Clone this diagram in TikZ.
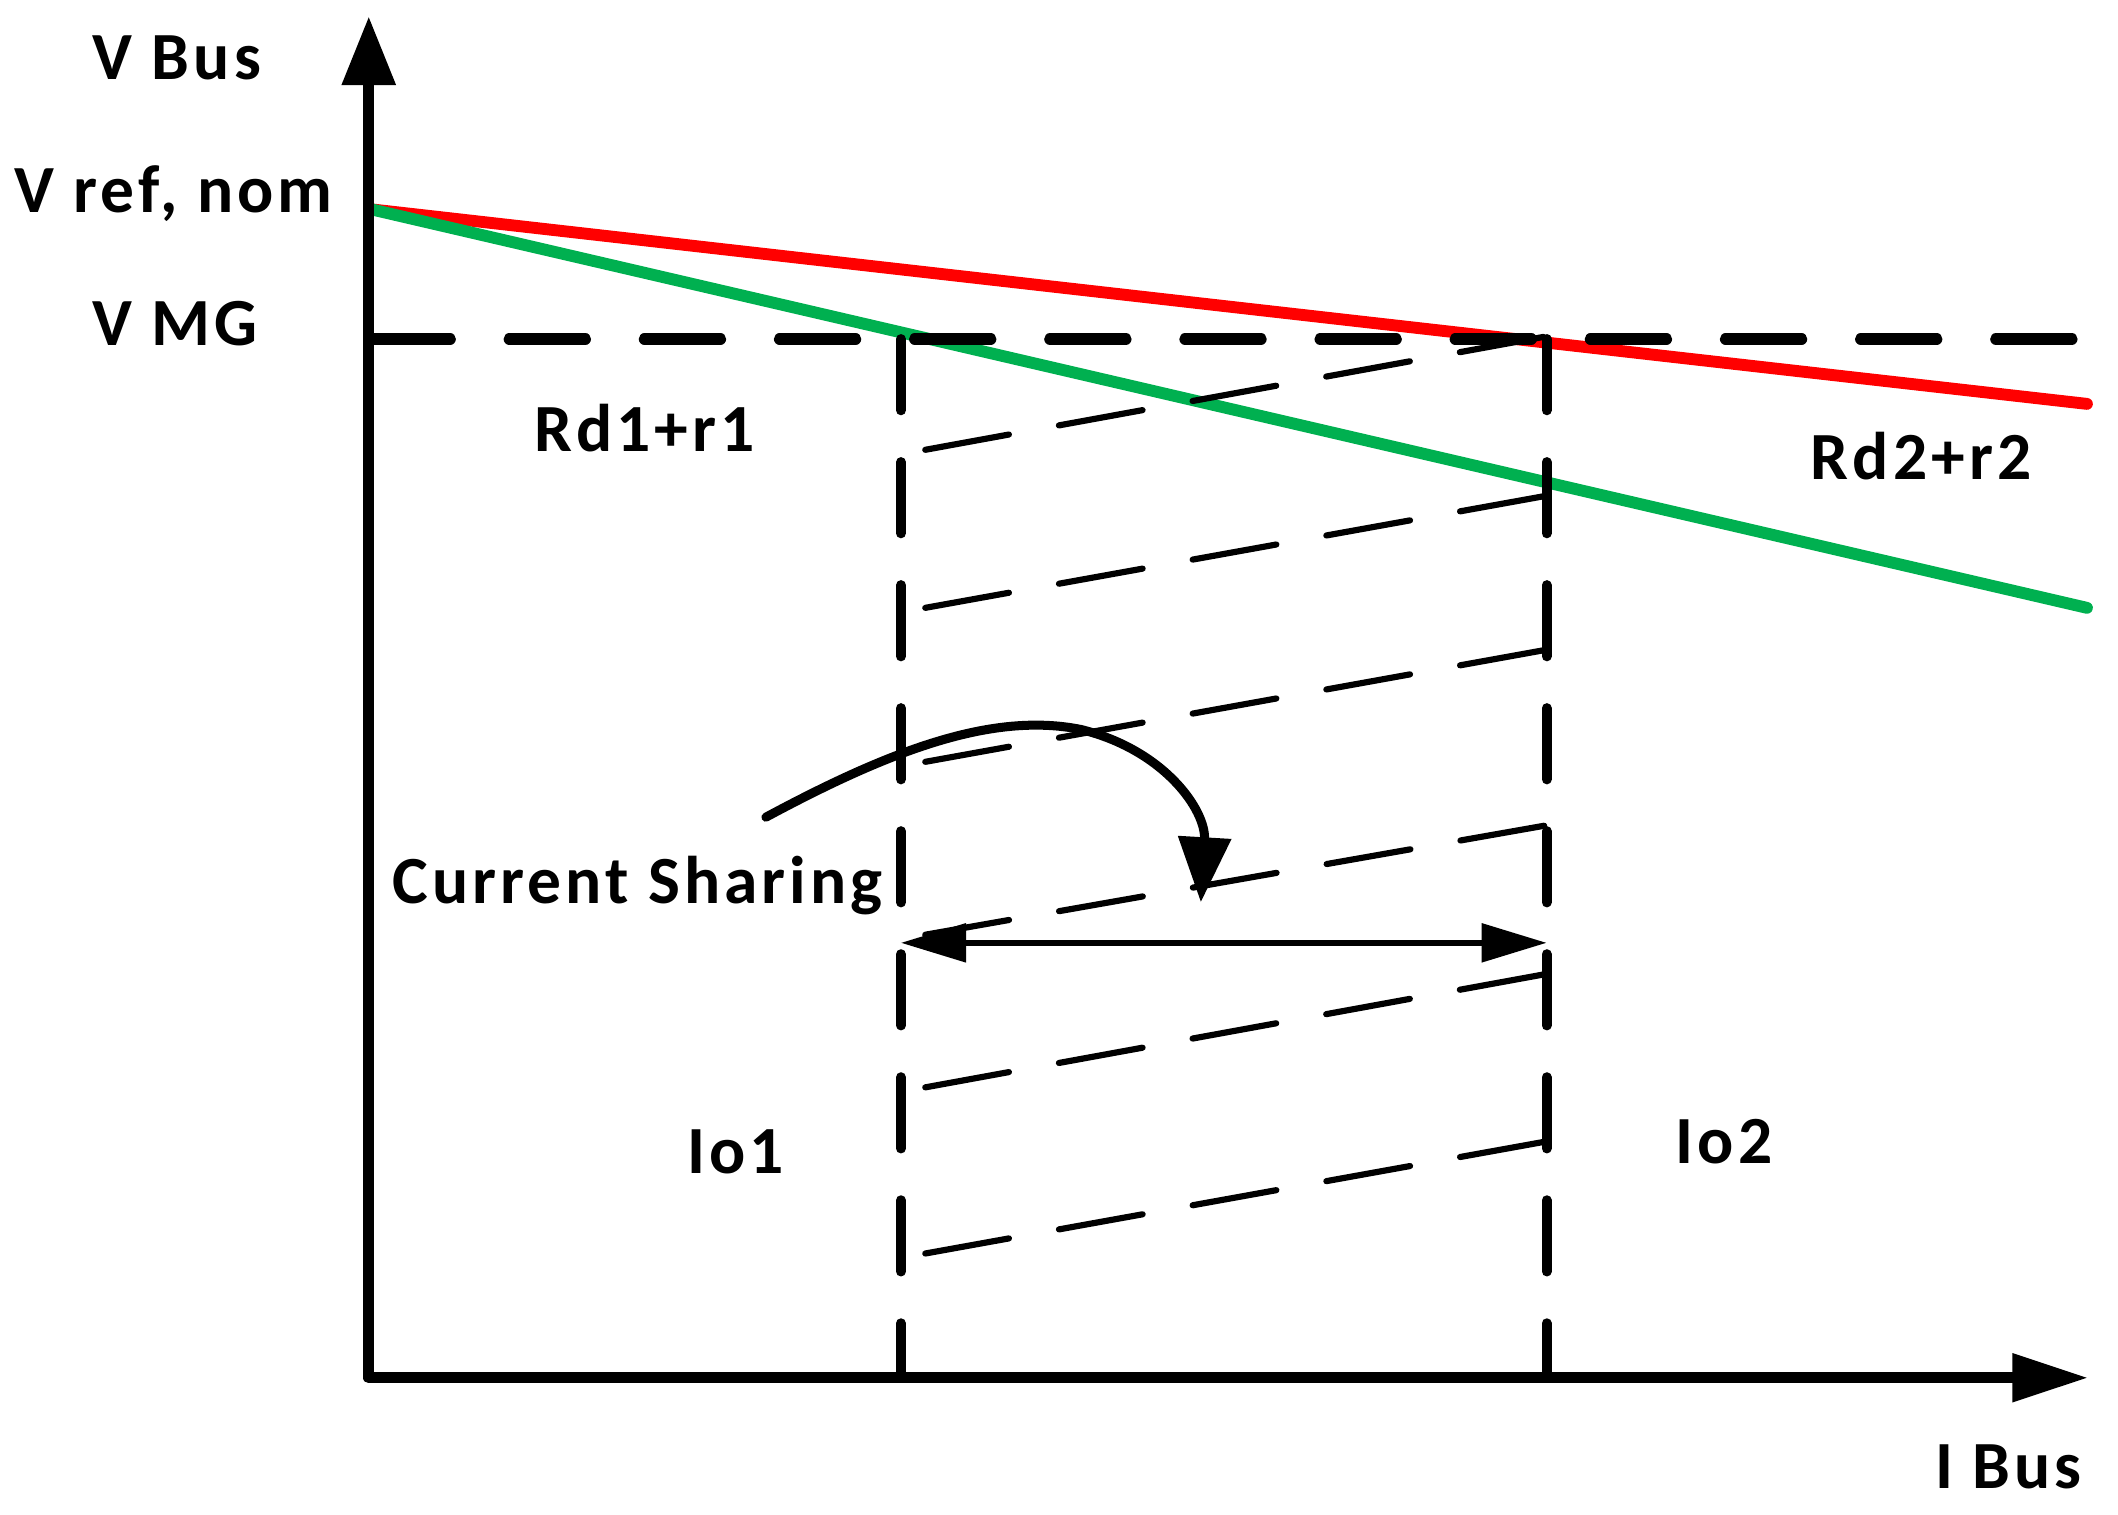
\documentclass[tikz,border=0pt]{standalone}
\usepackage{fontspec}
\setmainfont{Carlito}[LetterSpace=6]
\usetikzlibrary{arrows.meta}
\definecolor{lred}{RGB}{255,0,0}
\definecolor{lgreen}{RGB}{0,176,80}
\begin{document}
\begin{tikzpicture}[x=0.01cm, y=-0.01cm,
  axis/.style={line width=2.4pt, line join=round},
  vmgline/.style={line width=2.4pt, line cap=round, dash pattern=on 16pt off 12.45pt},
  vline/.style={line width=2.1pt, line cap=round, dash pattern=on 15pt off 10.9pt},
  hatch/.style={line width=1.3pt, line cap=round, dash pattern=on 17.9pt off 10.7pt},
  droop/.style={line width=2.5pt, line cap=round},
  lbl/.style={inner sep=0pt, anchor=base west, font=\fontsize{14.2}{17}\selectfont\bfseries}]
\useasboundingbox (0,0) rectangle (1568,1121);
% key points
\coordinate (O) at (273,1020);
\coordinate (Ytip) at (273,12);
\coordinate (Xtip) at (1546,1020);
\coordinate (Vref) at (275,155);
\coordinate (Rend) at (1545,299);
\coordinate (Gend) at (1545,450);
\coordinate (Vmg0) at (277,251);
\coordinate (Vmg1) at (1548,251);
\coordinate (A1) at (667,251);
\coordinate (A0) at (667,1020);
\coordinate (B1) at (1145,251);
\coordinate (B0) at (1145,1020);
% droop lines
\draw[droop, lred] (Vref) -- (Rend);
\draw[droop, lgreen] (Vref) -- (Gend);
% hatch lines
\foreach \yl/\yr [count=\i] in {333/249, 450/367, 564/481, 692/611, 805/721, 928/845}{
  \coordinate (H\i a) at (685,\yl);
  \coordinate (H\i b) at (1145,\yr);
  \draw[hatch] (H\i a) -- (H\i b);
}
% dashed reference lines
\draw[vline] (A1) -- (A0);
\draw[vline] (B1) -- (B0);
\draw[vmgline] (Vmg0) -- (Vmg1);
% axes
\draw[axis, {Triangle[length=14.5pt, width=10.8pt]}-{Triangle[length=16pt, width=9.7pt]}] (Ytip) -- (O) -- (Xtip);
% current sharing double arrow
\coordinate (D0) at (667,698);
\coordinate (D1) at (1145,698);
\draw[line width=1.2pt, {Triangle[length=13.7pt, width=8pt]}-{Triangle[length=13.7pt, width=8pt]}] (D0) -- (D1);
% curved arrow
\coordinate (C0) at (567,605);
\coordinate (Cm) at (800,540);
\coordinate (C1) at (889,668);
\draw[line width=1.9pt, line cap=round, -{Triangle[length=13.7pt, width=10.8pt]}]
  (C0) .. controls (660,555) and (735,527) .. (Cm) .. controls (862,555) and (893,600) .. (C1);
% labels
\node[lbl] (vbus) at (68,59) {V Bus};
\node[lbl] (vref) at (10,157) {V ref, nom};
\node[lbl] (vmg) at (68,256) {V MG};
\node[lbl] (rd1) at (395,334) {Rd1+r1};
\node[lbl] (rd2) at (1340,355) {Rd2+r2};
\node[lbl] (cs) at (290,669) {Current Sharing};
\node[lbl] (io1) at (508,869) {Io1};
\node[lbl] (io2) at (1240,861) {Io2};
\node[lbl] (ibus) at (1432,1102) {I Bus};
\end{tikzpicture}
\end{document}
